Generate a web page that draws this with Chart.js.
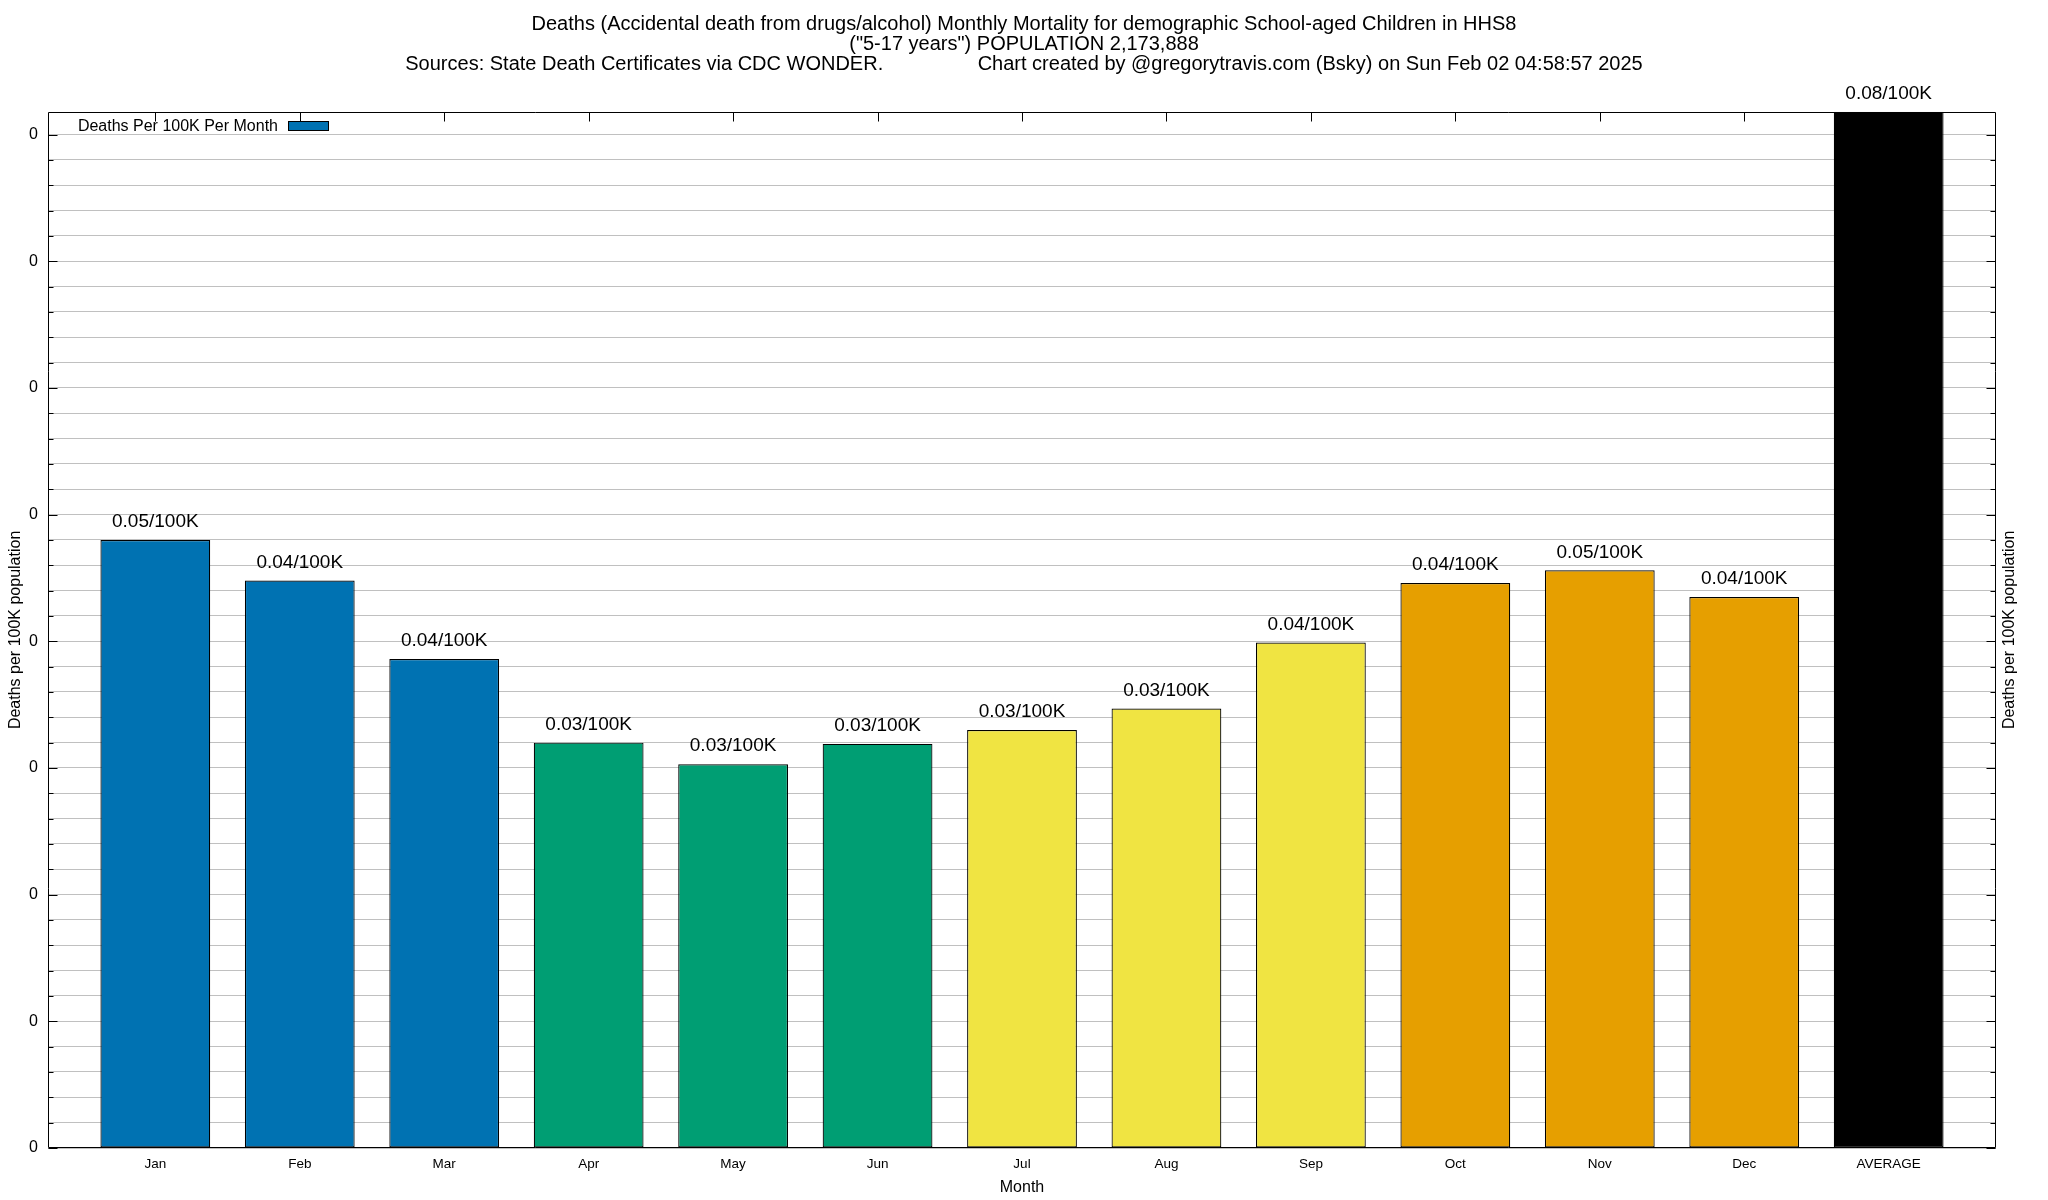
<!DOCTYPE html>
<html><head><meta charset="utf-8">
<script src="https://cdn.jsdelivr.net/npm/chart.js@4/dist/chart.umd.min.js"></script>
<style>html,body{margin:0;padding:0;background:#fff;} #wrap{width:2048px;height:1200px;}</style>
</head><body><div id="wrap"><canvas id="c" width="2048" height="1200"></canvas></div>
<script>
const titleLines = [
  'Deaths (Accidental death from drugs/alcohol) Monthly Mortality for demographic School-aged Children in HHS8',
  '("5-17 years") POPULATION 2,173,888',
  'Sources: State Death Certificates via CDC WONDER.                 Chart created by @gregorytravis.com (Bsky) on Sun Feb 02 04:58:57 2025'
];
const categories = ['Jan','Feb','Mar','Apr','May','Jun','Jul','Aug','Sep','Oct','Nov','Dec','AVERAGE'];
const values = [0.0480,0.0448,0.0386,0.0320,0.0303,0.0319,0.0330,0.0347,0.0399,0.0446,0.0456,0.0435,0.0818];
const seriesName = 'Deaths Per 100K Per Month';
const valueSuffix = '/100K';
const yMax = 0.0818;
const yMinorStep = 0.002;
const yMajorTicks = [0,0.01,0.02,0.03,0.04,0.05,0.06,0.07,0.08];
const yTickLabels = ['0','0','0','0','0','0','0','0','0'];
const xTitle = 'Month';
const yTitle = 'Deaths per 100K population';

// styles
const barColors = ['#0072b2','#0072b2','#0072b2','#009e73','#009e73','#009e73','#f0e442','#f0e442','#f0e442','#e69f00','#e69f00','#e69f00','#000000'];
const FONT = '"Liberation Sans", Arial, Helvetica, sans-serif';
Chart.defaults.font.family = FONT;
Chart.defaults.color = '#000';

const decor = {
  id: 'decor',
  afterDatasetsDraw(chart) {
    const {ctx, chartArea: a, scales: {x, y}} = chart;
    ctx.save();
    // value labels
    const meta = chart.getDatasetMeta(0);
    ctx.font = '19px ' + FONT;
    ctx.textAlign = 'center';
    ctx.textBaseline = 'middle';
    ctx.fillStyle = '#000';
    meta.data.forEach((bar, i) => {
      ctx.fillText(values[i].toFixed(2) + valueSuffix, bar.x, bar.y - 18);
    });
    // frame
    const L = Math.round(a.left) + 0.5, R = Math.round(a.right) - 0.5;
    const T = Math.round(a.top) + 0.5, B = Math.round(a.bottom) - 0.5;
    ctx.strokeStyle = '#000';
    ctx.lineWidth = 1;
    ctx.beginPath();
    ctx.rect(L, T, R - L, B - T);
    // y ticks (inward, mirrored)
    y.ticks.forEach((t, i) => {
      const py = Math.round(y.getPixelForValue(t.value)) + 0.5;
      const len = (i % 5 === 0) ? 9 : 5;
      ctx.moveTo(L, py); ctx.lineTo(L + len, py);
      ctx.moveTo(R, py); ctx.lineTo(R - len, py);
    });
    // top mirrored x ticks
    categories.forEach((c, i) => {
      const px = Math.round(x.getPixelForValue(i)) + 0.5;
      ctx.moveTo(px, T); ctx.lineTo(px, T + 9);
    });
    ctx.stroke();
    // legend
    ctx.font = '16px ' + FONT;
    ctx.textAlign = 'right';
    ctx.textBaseline = 'middle';
    ctx.fillText(seriesName, 278, 127);
    ctx.fillStyle = barColors[0];
    ctx.fillRect(288, 121, 41, 10);
    ctx.strokeRect(288.5, 121.5, 40, 9);
    // right axis title
    ctx.fillStyle = '#000';
    ctx.font = '16px ' + FONT;
    ctx.translate(2010, (a.top + a.bottom) / 2);
    ctx.rotate(-Math.PI / 2);
    ctx.textAlign = 'center';
    ctx.fillText(yTitle, 0, 0);
    ctx.restore();
  }
};

new Chart(document.getElementById('c'), {
  type: 'bar',
  data: {
    datasets: [{
      label: seriesName,
      data: values.map((v, i) => ({x: i, y: v})),
      backgroundColor: barColors,
      borderColor: '#000',
      borderWidth: 1.2,
      borderSkipped: false,
      categoryPercentage: 1,
      barPercentage: 0.76
    }]
  },
  options: {
    responsive: false,
    animation: false,
    devicePixelRatio: 1,
    layout: {padding: 0},
    plugins: {
      legend: {display: false},
      tooltip: {enabled: false},
      title: {
        display: true, text: titleLines, color: '#000',
        font: {size: 20, weight: 'normal', lineHeight: 0.98},
        padding: {top: 15, bottom: 38}
      }
    },
    scales: {
      x: {
        type: 'linear', min: -0.743, max: 12.743, offset: false,
        afterBuildTicks: s => { s.ticks = categories.map((c, i) => ({value: i})); },
        ticks: {callback: v => categories[v], font: {size: 13.5}, color: '#000', padding: 8, maxRotation: 0, autoSkip: false},
        grid: {display: false, drawTicks: false},
        border: {display: false},
        title: {display: true, text: xTitle, color: '#000', font: {size: 16}, padding: {top: 0, bottom: 2.4}},
        afterFit: s => { s.height = 52; }
      },
      y: {
        type: 'linear', position: 'left', min: 0, max: yMax,
        afterBuildTicks: s => {
          const t = [];
          for (let k = 0; k <= Math.round(yMajorTicks[yMajorTicks.length - 1] / yMinorStep); k++) t.push({value: k * yMinorStep});
          s.ticks = t;
        },
        ticks: {
          callback: (v, i) => (i % 5 === 0 ? yTickLabels[i / 5] : ''),
          font: {size: 16}, color: '#000', padding: 10, autoSkip: false
        },
        grid: {display: true, color: '#c0c0c0', lineWidth: 1, drawTicks: false},
        border: {display: false},
        title: {display: true, text: yTitle, color: '#000', font: {size: 16}, padding: {top: 6.4, bottom: 0}},
        afterFit: s => { s.width = 48; }
      },
      y2: {
        type: 'linear', position: 'right', min: 0, max: yMax,
        ticks: {display: false},
        grid: {display: false, drawTicks: false},
        border: {display: false},
        afterFit: s => { s.width = 52; }
      }
    }
  },
  plugins: [decor]
});
</script>
</body></html>
